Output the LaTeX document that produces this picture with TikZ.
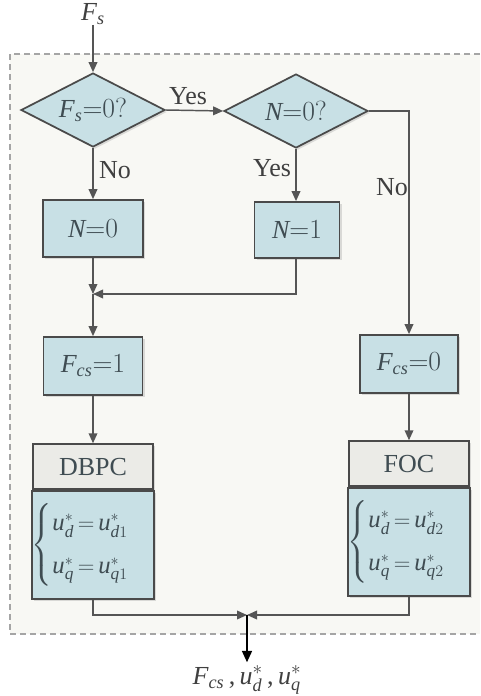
\documentclass[tikz,border=0pt]{standalone}
\usepackage{amsmath}
\usepackage{fontspec}
\setmainfont{Liberation Serif}
\DeclareSymbolFont{letters}{TU}{\rmdefault}{m}{it}
\usetikzlibrary{shapes.geometric,arrows.meta,shadows}
\definecolor{boxfill}{HTML}{C8E0E5}
\definecolor{hdrfill}{HTML}{EBEBE7}
\definecolor{bgfill}{HTML}{F8F8F4}
\definecolor{linec}{HTML}{555555}
\definecolor{borderc}{HTML}{4A4A4A}
\definecolor{txt}{HTML}{3F4C52}
\definecolor{dashc}{HTML}{A5A5A5}
\tikzset{
  shad/.style={drop shadow={opacity=0.25,shadow xshift=1.5pt,shadow yshift=-1.5pt}},
  dia/.style={diamond,draw=borderc,line width=1.3pt,fill=boxfill,text=txt,inner sep=0pt,
    minimum width=108pt,minimum height=55.5pt,aspect=1.95,shad},
  pbox/.style={rectangle,draw=borderc,line width=1.3pt,fill=boxfill,text=txt,inner sep=0pt,shad},
  hdr/.style={rectangle,draw=borderc,line width=1.3pt,fill=hdrfill,text=txt,inner sep=0pt,
    minimum width=90pt,minimum height=33.75pt,anchor=south,shad},
  body/.style={rectangle,draw=borderc,line width=1.3pt,fill=boxfill,text=txt,inner sep=0pt,
    minimum width=90pt,minimum height=81pt,anchor=north,shad,font=\fontsize{18.5}{22}\selectfont},
  arr/.style={draw=linec,line width=1.1pt,-{Triangle[length=7.5pt,width=6.5pt]}},
  lbl/.style={text=black!75,inner sep=0pt},
  outarr/.style={draw=black,line width=1.2pt,-{Triangle[length=8.5pt,width=7.5pt]}}
}
\begin{document}
\begin{tikzpicture}[x=0.75pt,y=-0.75pt,font=\fontsize{19.5}{23}\selectfont]
\useasboundingbox (0,0) rectangle (480,696);
% background region
\fill[bgfill] (10,54) rectangle (480,634);
\draw[dashc,line width=1.2pt,dash pattern=on 4.5pt off 3pt] (480,54) -- (10,54) -- (10,634) -- (480,634);
% nodes
\node[lbl] (fs) at (93,14) {$F_s$};
\node[dia] (d1) at (93,110) {$F_s{=}0?$};
\node[dia] (d2) at (296,111) {$N{=}0?$};
\node[pbox,minimum width=75pt,minimum height=42.75pt] (n0) at (93,228.5) {$N{=}0$};
\node[pbox,minimum width=63.75pt,minimum height=42pt] (n1) at (297,230) {$N{=}1$};
\node[pbox,minimum width=74.25pt,minimum height=43.5pt] (fc1) at (93,366) {$F_{cs}{=}1$};
\node[pbox,minimum width=73.5pt,minimum height=43.5pt] (fc0) at (409,364) {$F_{cs}{=}0$};
\node[hdr] (dbpc) at (93,490) {DBPC};
\node[body] (dbpcb) at (93,490) {$\begin{cases} u_d^*\,{=}\,u_{d1}^* \\[6pt] u_q^*\,{=}\,u_{q1}^*\end{cases}$};
\node[hdr] (foc) at (409,487) {FOC};
\node[body] (focb) at (409,487) {$\begin{cases} u_d^*\,{=}\,u_{d2}^* \\[6pt] u_q^*\,{=}\,u_{q2}^*\end{cases}$};
\coordinate (j) at (93,294);
\coordinate (out) at (247,615);
\node[lbl] (res) at (247,680) {$F_{cs}$\,,\,$u_d^*$\,,\,$u_q^*$};
% labels
\node[lbl] (y1) at (188,96) {Yes};
\node[lbl] (no1) at (115,170) {No};
\node[lbl] (y2) at (272,168) {Yes};
\node[lbl] (no2) at (392,187) {No};
% connectors
\draw[arr] (fs.south) -- (d1.north);
\draw[arr] (d1.east) -- (d2.west);
\draw[arr] (d2.east) -| (fc0.north);
\draw[arr] (d1.south) -- (n0.north);
\draw[arr] (d2.south) -- (d2.south |- n1.north);
\draw[arr] (n0.south) -- (j);
\draw[arr] (n1.south -| d2.south) |- (j);
\draw[arr] (j) -- (fc1.north);
\draw[arr] (fc1.south) -- (dbpc.north);
\draw[arr] (fc0.south) -- (foc.north);
\draw[arr] (dbpcb.south) |- (out);
\draw[arr] (focb.south) |- (out);
\draw[outarr] (out) -- ([yshift=2pt]res.north);
\end{tikzpicture}
\end{document}
